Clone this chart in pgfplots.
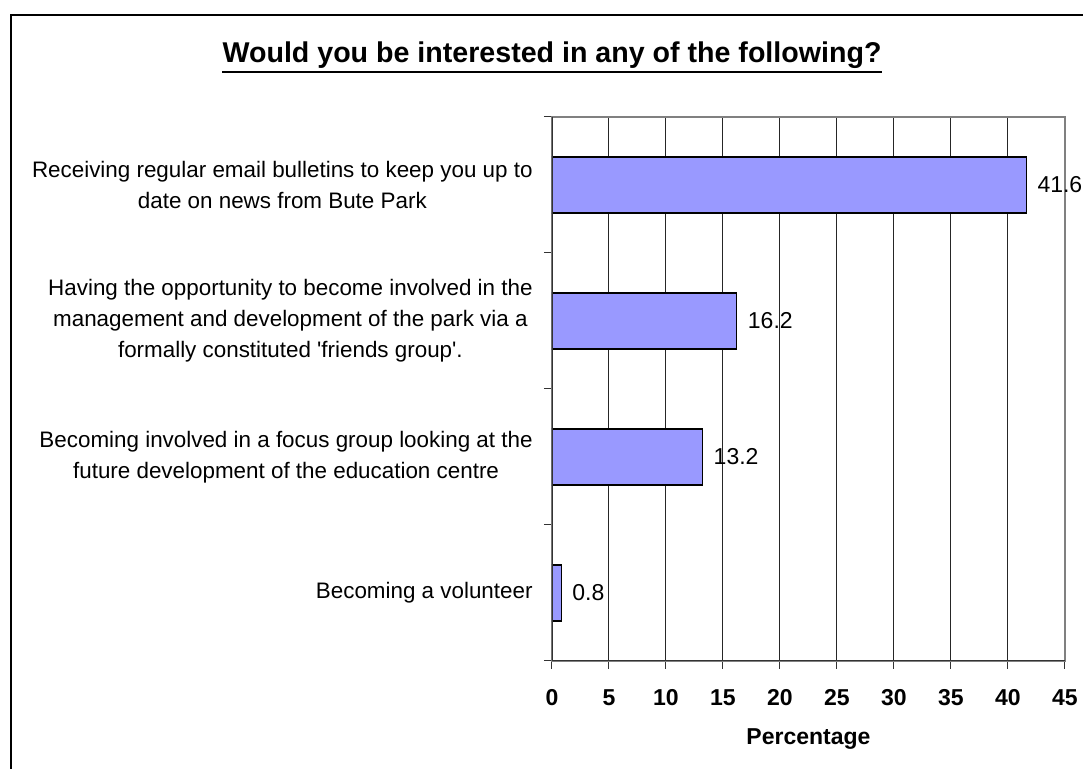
\documentclass[border=0pt]{standalone}
\usepackage{fontspec}
\setmainfont{Liberation Sans}
\usepackage{pgfplots}
\pgfplotsset{compat=1.18}
\definecolor{barfill}{HTML}{9999FF}
\begin{document}
\begin{tikzpicture}
\path[use as bounding box] (0,0) rectangle (541.5pt,384.5pt);
\draw[line width=1pt] (5.5pt,0) -- (5.5pt,377pt) -- (541.5pt,377pt);
\node[anchor=base, font=\fontsize{14.3pt}{17pt}\selectfont\bfseries, inner sep=0pt] (t) at (276pt,353pt) {Would you be interested in any of the following?};
\draw[line width=1.1pt] (t.west |- 0,348.5pt) -- (t.east |- 0,348.5pt);
\begin{axis}[
  at={(276pt,54pt)}, anchor=south west,
  width=256.5pt, height=272pt, scale only axis,
  xbar, bar width=28pt,
  xmin=0, xmax=45, ymin=-0.5, ymax=3.5,
  xtick={0,5,...,45},
  ytick={-0.5,0.5,1.5,2.5,3.5}, yticklabels={},
  extra y ticks={0,1,2,3},
  extra y tick labels={
    {Becoming a volunteer},
    {Becoming involved in a focus group looking at the\\future development of the education centre},
    {Having the opportunity to become involved in the\\management and development of the park via a\\formally constituted \textquotesingle friends group\textquotesingle.},
    {Receiving regular email bulletins to keep you up to\\date on news from Bute Park}},
  extra y tick style={major tick length=0pt, grid=none,
    yticklabel style={align=center, inner sep=0pt, xshift=-9.5pt,
      font=\fontsize{11.2pt}{15.5pt}\selectfont}},
  xtick pos=bottom, ytick pos=left,
  tick align=outside, major tick length=4pt,
  tick style={black!80, line width=0.5pt},
  xmajorgrids, major grid style={black!85, line width=0.5pt},
  axis line style={gray, line width=0.6pt},
  /pgf/number format/assume math mode=true,
  xticklabel style={font=\fontsize{11.5pt}{13pt}\selectfont\bfseries, text height=8.3pt, text depth=0pt, inner sep=0pt, yshift=-10pt},
  xlabel={Percentage},
  xlabel style={font=\fontsize{11.5pt}{13pt}\selectfont\bfseries, yshift=-8pt},
  nodes near coords,
  nodes near coords style={anchor=west, xshift=2pt, font=\fontsize{11.5pt}{13pt}\selectfont, black},
  point meta=x,
]
\addplot[fill=barfill, draw=black, line width=0.6pt] coordinates {(0.8,0) (13.2,1) (16.2,2) (41.6,3)};
\draw[black!80, line width=0.7pt] (rel axis cs:0,1) -- (rel axis cs:0,0) -- (rel axis cs:1,0);
\end{axis}
\end{tikzpicture}
\end{document}
